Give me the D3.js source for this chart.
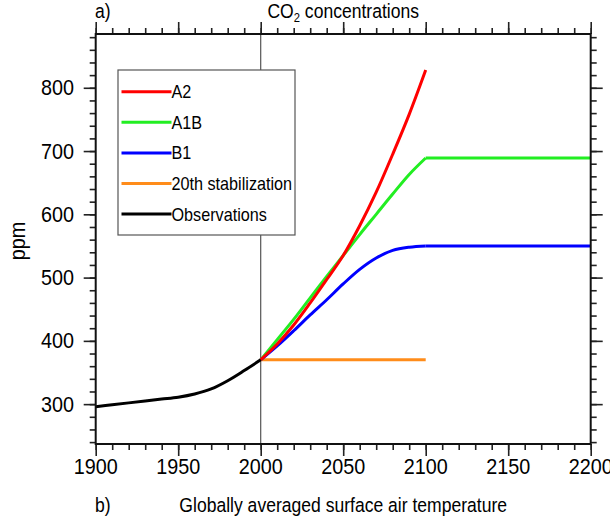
<!DOCTYPE html>
<html>
<head>
<meta charset="utf-8">
<script src="https://cdn.jsdelivr.net/npm/d3@7"></script>
<style>
  body { margin: 0; background: #fff; }
  svg text { font-family: "Liberation Sans", Arial, Helvetica, sans-serif; fill: #000; }
</style>
</head>
<body>
<svg id="chart" width="610" height="521"></svg>
<script>
// observed CO2 (ppm)
const obsYears = [1900, 1910, 1920, 1930, 1940, 1950, 1960, 1970, 1980, 1990, 2000]
const obsCO2 = [296, 299, 302, 305, 308, 311, 316, 324, 337, 353, 370]

// scenarios 2000-2100
const scenYears = [2000, 2010, 2020, 2030, 2040, 2050, 2060, 2070, 2080, 2090, 2100]
const a2 = [370, 395, 425, 460, 497, 535, 582, 635, 695, 758, 828]
const a1b = [370, 402, 434, 468, 502, 535, 568, 600, 632, 663, 689]
const b1 = [370, 392, 416, 441, 465, 490, 513, 531, 543, 548, 550]
const stabYears = [2000, 2100]
const stab = [370, 370]

// stabilised after 2100
const extYears = [2100, 2200]
const a1bExt = [689, 689]
const b1Ext = [550, 550]

const xMajor = [1900, 1950, 2000, 2050, 2100, 2150, 2200]
const yMajor = [300, 400, 500, 600, 700, 800]

const legendNames = ["A2", "A1B", "B1", "20th stabilization", "Observations"]
const legendColors = ["#ff0000", "#22ee22", "#0000ff", "#ff8c1a", "#000000"]

const mLeft = 95.7, mRight = 590.7, mTop = 34, mBottom = 444
const svg = d3.select("#chart")

const x = d3.scaleLinear().domain([1900, 2200]).range([mLeft, mRight])
const y = d3.scaleLinear().domain([237, 885]).range([mBottom, mTop])

function label(px, py, txt, size, anchor) {
  return svg.append("text")
    .attr("transform", `translate(${px},${py}) scale(0.9,1)`)
    .attr("text-anchor", anchor)
    .style("font-size", size + "px")
    .text(txt)
}

// ticks, all pointing outwards
const xMinor = d3.range(1900, 2201, 10)
const yMinor = d3.range(240, 885, 20)

svg.append("g").attr("transform", `translate(0,${mBottom})`)
  .call(d3.axisBottom(x).tickValues(xMinor).tickSize(6).tickFormat(""))
svg.append("g").attr("transform", `translate(0,${mBottom})`)
  .call(d3.axisBottom(x).tickValues(xMajor).tickSize(12).tickFormat(""))
svg.append("g").attr("transform", `translate(0,${mTop})`)
  .call(d3.axisTop(x).tickValues(xMinor).tickSize(6).tickFormat(""))
svg.append("g").attr("transform", `translate(0,${mTop})`)
  .call(d3.axisTop(x).tickValues(xMajor).tickSize(12).tickFormat(""))
svg.append("g").attr("transform", `translate(${mLeft},0)`)
  .call(d3.axisLeft(y).tickValues(yMinor).tickSize(6).tickFormat(""))
svg.append("g").attr("transform", `translate(${mLeft},0)`)
  .call(d3.axisLeft(y).tickValues(yMajor).tickSize(12).tickFormat(""))
svg.append("g").attr("transform", `translate(${mRight},0)`)
  .call(d3.axisRight(y).tickValues(yMinor).tickSize(6).tickFormat(""))
svg.append("g").attr("transform", `translate(${mRight},0)`)
  .call(d3.axisRight(y).tickValues(yMajor).tickSize(12).tickFormat(""))

svg.selectAll(".domain").remove()
svg.selectAll(".tick line").attr("stroke", "#222").attr("stroke-width", 1.6)

// tick labels
xMajor.forEach(d => label(x(d), 474, d, 22, "middle"))
yMajor.forEach(d => label(74, y(d) + 7.5, d, 22, "end"))

label(22, 241, "ppm", 22, "middle")
  .attr("transform", "translate(25,241) rotate(-90) scale(0.9,1)")

// 2000 reference line
svg.append("line")
  .attr("x1", x(2000)).attr("x2", x(2000))
  .attr("y1", mTop).attr("y2", mBottom)
  .attr("stroke", "#555").attr("stroke-width", 1.2)

const curve = d3.line().x(d => x(d[0])).y(d => y(d[1])).curve(d3.curveCatmullRom.alpha(0.5))
const straight = d3.line().x(d => x(d[0])).y(d => y(d[1]))

function draw(years, vals, color, gen) {
  svg.append("path")
    .datum(years.map((yr, i) => [yr, vals[i]]))
    .attr("d", gen)
    .attr("fill", "none")
    .attr("stroke", color)
    .attr("stroke-width", 3)
    .attr("stroke-linejoin", "round")
}

draw(stabYears, stab, legendColors[3], straight)
draw(extYears, b1Ext, legendColors[2], straight)
draw(scenYears, b1, legendColors[2], curve)
draw(extYears, a1bExt, legendColors[1], straight)
draw(scenYears, a1b, legendColors[1], curve)
draw(scenYears, a2, legendColors[0], curve)
draw(obsYears, obsCO2, legendColors[4], curve)

// frame
svg.append("rect")
  .attr("x", mLeft).attr("y", mTop)
  .attr("width", mRight - mLeft).attr("height", mBottom - mTop)
  .attr("fill", "none").attr("stroke", "#111").attr("stroke-width", 2)

// legend
const lg = svg.append("g")
lg.append("rect")
  .attr("x", 118).attr("y", 70).attr("width", 177).attr("height", 165)
  .attr("fill", "#fff").attr("stroke", "#555").attr("stroke-width", 1.2)
legendNames.forEach((name, i) => {
  const ly = 91.7 + i * 30.6
  lg.append("line")
    .attr("x1", 121.5).attr("x2", 171.5).attr("y1", ly).attr("y2", ly)
    .attr("stroke", legendColors[i]).attr("stroke-width", 3)
  label(171.5, ly + 6.5, name, 18, "start")
})

// titles
const t = label(x(2050), 18, "", 19.5, "middle")
t.append("tspan").text("CO")
t.append("tspan").text("2").style("font-size", "12.5px").attr("dy", 4)
t.append("tspan").text(" concentrations").attr("dy", -4)
label(95, 18, "a)", 19.5, "start")

label(95, 512, "b)", 19.5, "start")
label(x(2050), 512, "Globally averaged surface air temperature", 19.5, "middle")
</script>
</body>
</html>
